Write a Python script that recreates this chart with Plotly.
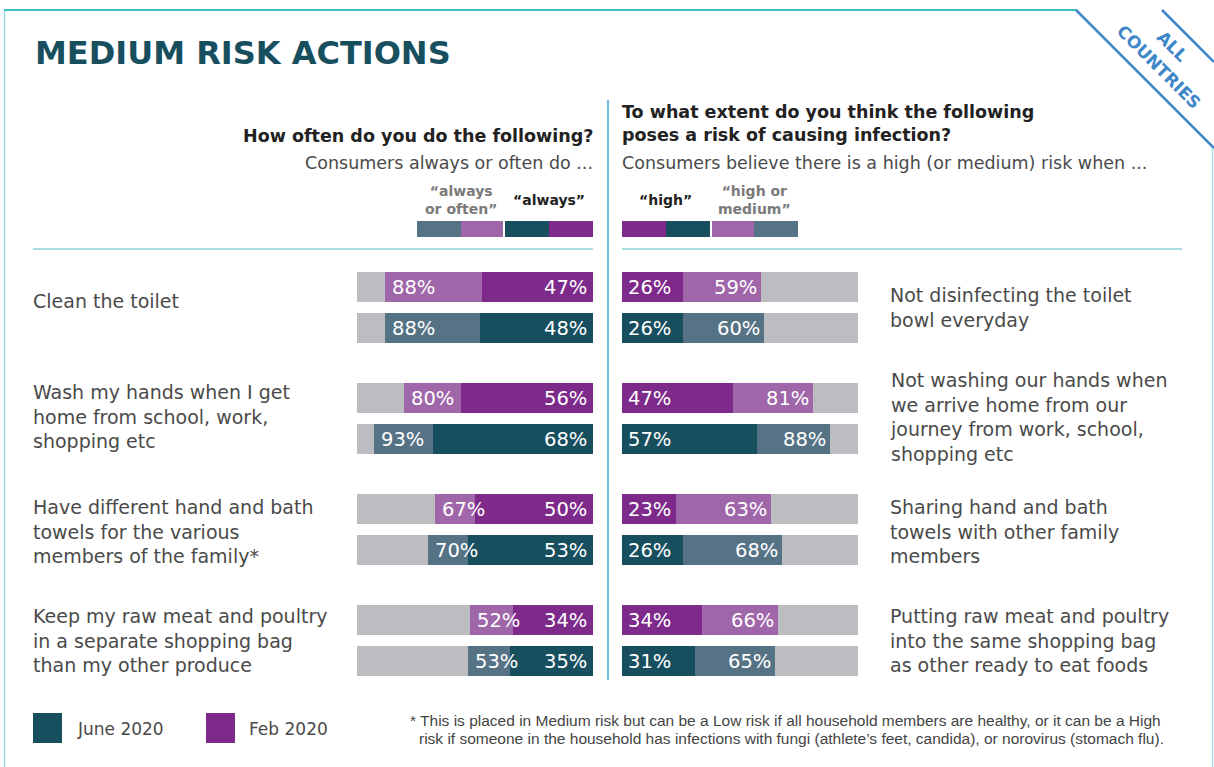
import plotly.graph_objects as go

W, H = 1214, 767

# ---------------- data ----------------
left_labels = [
    "Clean the toilet",
    "Wash my hands when I get<br>home from school, work,<br>shopping etc",
    "Have different hand and bath<br>towels for the various<br>members of the family*",
    "Keep my raw meat and poultry<br>in a separate shopping bag<br>than my other produce",
]
right_labels = [
    "Not disinfecting the toilet<br>bowl everyday",
    "Not washing our hands when<br>we arrive home from our<br>journey from work, school,<br>shopping etc",
    "Sharing hand and bath<br>towels with other family<br>members",
    "Putting raw meat and poultry<br>into the same shopping bag<br>as other ready to eat foods",
]
feb_always_often = [88, 80, 67, 52]
feb_always = [47, 56, 50, 34]
june_always_often = [88, 93, 70, 53]
june_always = [48, 68, 53, 35]
feb_high = [26, 47, 23, 34]
feb_high_medium = [59, 81, 63, 66]
june_high = [26, 57, 26, 31]
june_high_medium = [60, 88, 68, 65]
series_names = ["June 2020", "Feb 2020"]

# ---------------- style ----------------
C_PURPLE = "#7D2A8B"
C_LPURPLE = "#A066AA"
C_TEAL = "#174F5F"
C_SLATE = "#557385"
C_GRAY = "#BCBDC1"
C_TEXT = "#4A4A4A"
FONT = "DejaVu Sans, sans-serif"
ROW = 111.0  # px per row unit
BAR_W = 30 / ROW
JUNE_OFF = 41 / ROW

def px(x):
    return x / W

def py(y):
    return 1 - y / H

n = len(left_labels)
y_feb = [i for i in range(n)]
y_june = [i + JUNE_OFF for i in range(n)]

fig = go.Figure()

def bars(xaxis, yvals, vals, color):
    fig.add_trace(go.Bar(
        x=vals, y=yvals, orientation="h", width=BAR_W,
        marker=dict(color=color, line=dict(width=0)),
        xaxis=xaxis, yaxis="y", showlegend=False, hoverinfo="skip",
    ))

for ax in ("x", "x2"):
    bars(ax, y_feb + y_june, [100] * (2 * n), C_GRAY)
# left panel
bars("x", y_feb, feb_always_often, C_LPURPLE)
bars("x", y_feb, feb_always, C_PURPLE)
bars("x", y_june, june_always_often, C_SLATE)
bars("x", y_june, june_always, C_TEAL)
# right panel
bars("x2", y_feb, feb_high_medium, C_LPURPLE)
bars("x2", y_feb, feb_high, C_PURPLE)
bars("x2", y_june, june_high_medium, C_SLATE)
bars("x2", y_june, june_high, C_TEAL)

ann = []
vfont = dict(family=FONT, size=19.5, color="white")

def val(xref, x, y, v, anchor, shift):
    ann.append(dict(xref=xref, yref="y", x=x, y=y, text=f"{v}%", showarrow=False,
                    xanchor=anchor, yanchor="middle", xshift=shift, font=vfont))

for i in range(n):
    val("x", feb_always_often[i], y_feb[i], feb_always_often[i], "left", 5)
    val("x", 0, y_feb[i], feb_always[i], "right", -4)
    val("x", june_always_often[i], y_june[i], june_always_often[i], "left", 5)
    val("x", 0, y_june[i], june_always[i], "right", -4)
    val("x2", 0, y_feb[i], feb_high[i], "left", 4)
    val("x2", feb_high_medium[i], y_feb[i], feb_high_medium[i], "right", -2)
    val("x2", 0, y_june[i], june_high[i], "left", 4)
    val("x2", june_high_medium[i], y_june[i], june_high_medium[i], "right", -2)

lfont = dict(family=FONT, size=19, color=C_TEXT)
left_adj = [-0.06, -0.02, 0.02, 0.0]
right_adj = [0.0, -0.01, 0.02, 0.0]
for i in range(n):
    ymid = i + JUNE_OFF / 2
    ann.append(dict(xref="paper", yref="y", x=px(31), y=ymid + left_adj[i], text=left_labels[i],
                    showarrow=False, xanchor="left", yanchor="middle", align="left", font=lfont))
    ann.append(dict(xref="paper", yref="y", x=px(888), y=ymid + right_adj[i], text=right_labels[i],
                    showarrow=False, xanchor="left", yanchor="middle", align="left", font=lfont))

def txt(x, y, text, size, color, anchor="left", weight="normal", align="left", family=FONT, angle=0):
    ann.append(dict(xref="paper", yref="paper", x=px(x), y=py(y), text=text, showarrow=False,
                    xanchor=anchor, yanchor="middle", align=align, textangle=angle,
                    font=dict(family=family, size=size, color=color, weight=weight)))

# title & headers
txt(33, 53, "MEDIUM RISK ACTIONS", 32, C_TEAL, weight=800)
txt(595, 136, "How often do you do the following?", 17.5, "#222222", anchor="right", weight=700)
txt(595, 163, "Consumers always or often do ...", 17.5, C_TEXT, anchor="right")
txt(620, 124, "To what extent do you think the following<br>poses a risk of causing infection?", 17.5,
    "#222222", weight=700)
txt(620, 163, "Consumers believe there is a high (or medium) risk when ...", 17.5, C_TEXT)
txt(461, 200, "“always<br>or often”", 14, "#7A7A7A", anchor="center", weight=700, align="center")
txt(549, 200, "“always”", 14, "#222222", anchor="center", weight=700, align="center")
txt(666, 200, "“high”", 14, "#222222", anchor="center", weight=700, align="center")
txt(754, 200, "“high or<br>medium”", 14, "#7A7A7A", anchor="center", weight=700, align="center")

# bottom legend labels
txt(75, 729, series_names[0], 17, C_TEXT)
txt(247, 729, series_names[1], 17, C_TEXT)

# footnote
FOOT = "Liberation Sans, Arial, sans-serif"
txt(408, 720, "* This is placed in Medium risk but can be a Low risk if all household members are healthy, or it can be a High",
    15.5, "#444444", family=FOOT)
txt(417, 738, "risk if someone in the household has infections with fungi (athlete’s feet, candida), or norovirus (stomach flu).",
    15.5, "#444444", family=FOOT)

# badge
txt(1172, 46, "ALL", 17, "#3F86C8", anchor="center", weight=700, angle=45)
txt(1159, 67, "COUNTRIES", 17, "#3F86C8", anchor="center", weight=700, angle=45)

shapes = []

def rect(x0, y0, x1, y1, color):
    shapes.append(dict(type="rect", xref="paper", yref="paper", x0=px(x0), x1=px(x1),
                       y0=py(y1), y1=py(y0), fillcolor=color, line=dict(width=0), layer="above"))

def line(x0, y0, x1, y1, color, width):
    shapes.append(dict(type="line", xref="paper", yref="paper", x0=px(x0), x1=px(x1),
                       y0=py(y0), y1=py(y1), line=dict(color=color, width=width)))

# header swatches
rect(417, 221, 461, 237, C_SLATE)
rect(461, 221, 503, 237, C_LPURPLE)
rect(505, 221, 549, 237, C_TEAL)
rect(549, 221, 593, 237, C_PURPLE)
rect(622, 221, 666, 237, C_PURPLE)
rect(666, 221, 710, 237, C_TEAL)
rect(712, 221, 754, 237, C_LPURPLE)
rect(754, 221, 798, 237, C_SLATE)
# legend squares
rect(33, 713, 62, 743, C_TEAL)
rect(206, 713, 235, 743, C_PURPLE)

# separators & frame
line(33, 249, 593, 249, "#A9DEE4", 2)
line(622, 249, 1182, 249, "#A9DEE4", 2)
line(608, 100, 608, 680, "#74BCD3", 2)
line(4.5, 10, 4.5, 767, "#9ED8DE", 1.5)
line(4, 10, 1077, 10, "#3DBDC4", 2)
line(1212.5, 148, 1212.5, 767, "#A9DEE4", 1.5)
line(1076, 10, 1214, 148, "#3F86C8", 2.5)
line(1162, 10, 1214, 62, "#3F86C8", 2.5)

y_top = -287 / ROW
y_bot = (H - 287) / ROW

fig.update_layout(
    width=W, height=H, margin=dict(l=0, r=0, t=0, b=0),
    paper_bgcolor="white", plot_bgcolor="rgba(0,0,0,0)",
    barmode="overlay", bargap=0,
    xaxis=dict(domain=[px(357), px(593)], range=[100, 0], visible=False, fixedrange=True),
    xaxis2=dict(domain=[px(622), px(858)], range=[0, 100], visible=False, fixedrange=True),
    yaxis=dict(domain=[0, 1], range=[y_bot, y_top], visible=False, fixedrange=True),
    annotations=ann, shapes=shapes, showlegend=False,
)

fig.write_html("out.html", config={"displayModeBar": False},
               post_script="document.body.style.margin='0px';document.body.style.overflow='hidden';")
